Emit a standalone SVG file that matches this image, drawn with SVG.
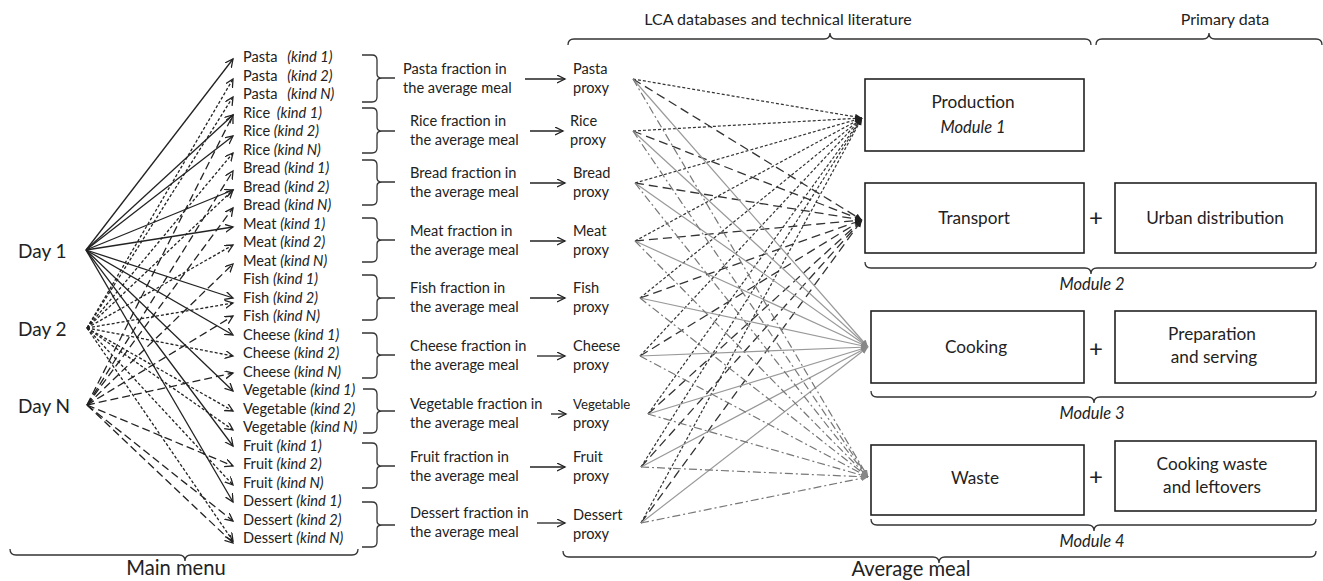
<svg xmlns="http://www.w3.org/2000/svg" width="1323" height="581" viewBox="0 0 1323 581">
<style>
text{font-family:Lato,"Open Sans","Liberation Sans",sans-serif;fill:#222}
.it{font-size:14.6px}
.k{font-style:italic}
.fr{font-size:14.6px}
.day{font-size:19px}
.hd{font-size:16px}
.bx{font-size:17.2px}
.md{font-size:16.5px;font-style:italic}
.big{font-size:20.2px}
.pl{font-size:24px}
.box{fill:#fff;stroke:#222;stroke-width:1.6}
.br{fill:none;stroke:#333;stroke-width:1.3}
.s{fill:none;stroke:#222;stroke-width:1.3}
.d2{fill:none;stroke:#222;stroke-width:1.3;stroke-dasharray:3 2}
.dn{fill:none;stroke:#222;stroke-width:1.3;stroke-dasharray:8 4}
.pr{fill:none;stroke:#333;stroke-width:1.2;stroke-dasharray:3 2}
.tr{fill:none;stroke:#333;stroke-width:1.3;stroke-dasharray:9 5}
.ck{fill:none;stroke:#999;stroke-width:1.2}
.ws{fill:none;stroke:#777;stroke-width:1.2;stroke-dasharray:8 3 2 3}
</style>
<defs>
<marker id="v" markerUnits="userSpaceOnUse" markerWidth="12" markerHeight="12" refX="8" refY="4" orient="auto">
<path d="M0,0 L8,4 L0,8" fill="none" stroke="#222" stroke-width="1.3"/>
</marker>
<marker id="t" markerUnits="userSpaceOnUse" markerWidth="10" markerHeight="10" refX="7" refY="3" orient="auto">
<path d="M0,0 L7,3 L0,6 z" fill="#222"/>
</marker>
<marker id="tg" markerUnits="userSpaceOnUse" markerWidth="10" markerHeight="10" refX="7" refY="3" orient="auto">
<path d="M0,0 L7,3 L0,6 z" fill="#888"/>
</marker>
</defs>

<!-- headings and braces -->
<g id="headings">
<text class="hd" x="778" y="25" text-anchor="middle">LCA databases and technical literature</text>
<text class="hd" x="1225" y="25" text-anchor="middle">Primary data</text>
<path class="br" d="M568,45 Q568,39 574,39 L824,39 Q830,39 830,33 Q830,39 836,39 L1085,39 Q1091,39 1091,45"/>
<path class="br" d="M1096,45 Q1096,39 1102,39 L1203,39 Q1209,39 1209,33 Q1209,39 1215,39 L1316,39 Q1322,39 1322,45"/>
<path class="br" d="M10,549 Q10,555 16,555 L179,555 Q185,555 185,561 Q185,555 191,555 L352,555 Q358,555 358,549"/>
<text class="big" x="176" y="575" text-anchor="middle">Main menu</text>
<path class="br" d="M563,551 Q563,557 569,557 L933,557 Q939,557 939,563 Q939,557 945,557 L1310,557 Q1316,557 1316,551"/>
<text class="big" x="911" y="576" text-anchor="middle">Average meal</text>
</g>

<!-- days -->
<g id="day1"><text class="day" x="18" y="258">Day 1</text></g>
<g id="day2"><text class="day" x="18" y="336">Day 2</text></g>
<g id="dayN"><text class="day" x="18" y="413">Day N</text></g>

<!-- menu items -->
<g id="items" class="it">
<text x="243" y="62">Pasta <tspan class="k" dx="6">(kind 1)</tspan></text>
<text x="243" y="80.5">Pasta <tspan class="k" dx="6">(kind 2)</tspan></text>
<text x="243" y="99">Pasta <tspan class="k" dx="6">(kind N)</tspan></text>
<text x="243" y="117.5">Rice <tspan class="k" dx="3">(kind 1)</tspan></text>
<text x="243" y="136">Rice <tspan class="k">(kind 2)</tspan></text>
<text x="243" y="154.5">Rice <tspan class="k">(kind N)</tspan></text>
<text x="243" y="173">Bread <tspan class="k">(kind 1)</tspan></text>
<text x="243" y="191.5">Bread <tspan class="k">(kind 2)</tspan></text>
<text x="243" y="210">Bread <tspan class="k">(kind N)</tspan></text>
<text x="243" y="228.5">Meat <tspan class="k">(kind 1)</tspan></text>
<text x="243" y="247">Meat <tspan class="k">(kind 2)</tspan></text>
<text x="243" y="265.5">Meat <tspan class="k">(kind N)</tspan></text>
<text x="243" y="284">Fish <tspan class="k">(kind 1)</tspan></text>
<text x="243" y="302.5">Fish <tspan class="k">(kind 2)</tspan></text>
<text x="243" y="321">Fish <tspan class="k">(kind N)</tspan></text>
<text x="243" y="339.5">Cheese <tspan class="k">(kind 1)</tspan></text>
<text x="243" y="358">Cheese <tspan class="k">(kind 2)</tspan></text>
<text x="243" y="376.5">Cheese <tspan class="k">(kind N)</tspan></text>
<text x="243" y="395">Vegetable <tspan class="k">(kind 1)</tspan></text>
<text x="243" y="413.5">Vegetable <tspan class="k">(kind 2)</tspan></text>
<text x="243" y="432">Vegetable <tspan class="k">(kind N)</tspan></text>
<text x="243" y="450.5">Fruit <tspan class="k">(kind 1)</tspan></text>
<text x="243" y="469">Fruit <tspan class="k">(kind 2)</tspan></text>
<text x="243" y="487.5">Fruit <tspan class="k">(kind N)</tspan></text>
<text x="243" y="506">Dessert <tspan class="k">(kind 1)</tspan></text>
<text x="243" y="524.5">Dessert <tspan class="k">(kind 2)</tspan></text>
<text x="243" y="543">Dessert <tspan class="k">(kind N)</tspan></text>
</g>

<!-- group braces -->
<g id="groupBraces" class="br">
<path d="M362,55 L372,55 Q377,55 377,60 L377,74 Q377,78 382,78 L395,78 M382,78 Q377,78 377,82 L377,97 Q377,102 372,102 L362,102"/>
<path d="M362,108 L372,108 Q377,108 377,113 L377,127 Q377,131 382,131 L395,131 M382,131 Q377,131 377,135 L377,148 Q377,153 372,153 L362,153"/>
<path d="M362,160 L372,160 Q377,160 377,165 L377,178 Q377,182 382,182 L395,182 M382,182 Q377,182 377,186 L377,200 Q377,205 372,205 L362,205"/>
<path d="M362,218 L372,218 Q377,218 377,223 L377,236 Q377,240 382,240 L395,240 M382,240 Q377,240 377,244 L377,257 Q377,262 372,262 L362,262"/>
<path d="M362,275 L372,275 Q377,275 377,280 L377,294 Q377,298 382,298 L395,298 M382,298 Q377,298 377,302 L377,315 Q377,320 372,320 L362,320"/>
<path d="M362,333 L372,333 Q377,333 377,338 L377,351 Q377,355 382,355 L395,355 M382,355 Q377,355 377,359 L377,373 Q377,378 372,378 L362,378"/>
<path d="M363,389 L372,389 Q377,389 377,394 L377,407 Q377,411 382,411 L395,411 M382,411 Q377,411 377,415 L377,428 Q377,433 372,433 L363,433"/>
<path d="M362,443 L372,443 Q377,443 377,448 L377,462 Q377,466 382,466 L395,466 M382,466 Q377,466 377,470 L377,483 Q377,488 372,488 L362,488"/>
<path d="M362,502 L372,502 Q377,502 377,507 L377,521 Q377,525 382,525 L395,525 M382,525 Q377,525 377,529 L377,542 Q377,547 372,547 L362,547"/>
</g>

<!-- fraction labels -->
<g id="fractions" class="fr">
<text x="403" y="74">Pasta fraction in</text><text x="403" y="93">the average meal</text>
<text x="410" y="126">Rice fraction in</text><text x="410" y="145">the average meal</text>
<text x="410" y="178">Bread fraction in</text><text x="410" y="197">the average meal</text>
<text x="410" y="236">Meat fraction in</text><text x="410" y="255">the average meal</text>
<text x="410" y="293">Fish fraction in</text><text x="410" y="312">the average meal</text>
<text x="410" y="351">Cheese fraction in</text><text x="410" y="370">the average meal</text>
<text x="410" y="409">Vegetable fraction in</text><text x="410" y="428">the average meal</text>
<text x="410" y="462">Fruit fraction in</text><text x="410" y="481">the average meal</text>
<text x="410" y="518">Dessert fraction in</text><text x="410" y="537">the average meal</text>
</g>

<!-- proxies -->
<g id="proxies" class="fr">
<text x="573" y="74">Pasta</text><text x="573" y="93">proxy</text>
<text x="570" y="126">Rice</text><text x="570" y="145">proxy</text>
<text x="573" y="178">Bread</text><text x="573" y="197">proxy</text>
<text x="573" y="236">Meat</text><text x="573" y="255">proxy</text>
<text x="573" y="293">Fish</text><text x="573" y="312">proxy</text>
<text x="573" y="351">Cheese</text><text x="573" y="370">proxy</text>
<text x="573" y="409" style="font-size:13.2px">Vegetable</text><text x="573" y="428">proxy</text>
<text x="573" y="462">Fruit</text><text x="573" y="481">proxy</text>
<text x="573" y="520">Dessert</text><text x="573" y="539">proxy</text>
</g>

<!-- modules -->
<g id="production"><rect class="box" x="865" y="79" width="219" height="72"/><text class="bx" x="973" y="108" text-anchor="middle">Production</text><text class="md" x="973" y="133" text-anchor="middle">Module 1</text></g>
<g id="transport"><rect class="box" x="865" y="183" width="219" height="70"/><text class="bx" x="974" y="224" text-anchor="middle">Transport</text></g>
<g id="urban"><rect class="box" x="1115" y="183" width="201" height="70"/><text class="bx" x="1215" y="224" text-anchor="middle">Urban distribution</text></g>
<g id="cooking"><rect class="box" x="871" y="311" width="213" height="72"/><text class="bx" x="976" y="353" text-anchor="middle">Cooking</text></g>
<g id="preparation"><rect class="box" x="1115" y="311" width="201" height="72"/><text class="bx" x="1212" y="340" text-anchor="middle">Preparation</text><text class="bx" x="1214" y="363" text-anchor="middle">and serving</text></g>
<g id="waste"><rect class="box" x="871" y="445" width="213" height="70"/><text class="bx" x="975" y="484" text-anchor="middle">Waste</text></g>
<g id="cookingwaste"><rect class="box" x="1115" y="441" width="201" height="70"/><text class="bx" x="1212" y="470" text-anchor="middle">Cooking waste</text><text class="bx" x="1212" y="493" text-anchor="middle">and leftovers</text></g>
<g id="plus" class="pl"><text x="1096" y="226" text-anchor="middle">+</text><text x="1096" y="357" text-anchor="middle">+</text><text x="1096" y="485" text-anchor="middle">+</text></g>
<g id="moduleBraces">
<path class="br" d="M865,262 Q865,268 871,268 L1085,268 Q1091,268 1091,274 Q1091,268 1097,268 L1310,268 Q1316,268 1316,262"/>
<text class="md" x="1092" y="290" text-anchor="middle">Module 2</text>
<path class="br" d="M871,391 Q871,397 877,397 L1088,397 Q1094,397 1094,403 Q1094,397 1100,397 L1310,397 Q1316,397 1316,391"/>
<text class="md" x="1092" y="419" text-anchor="middle">Module 3</text>
<path class="br" d="M871,519 Q871,525 877,525 L1088,525 Q1094,525 1094,531 Q1094,525 1100,525 L1310,525 Q1316,525 1316,519"/>
<text class="md" x="1092" y="547" text-anchor="middle">Module 4</text>
</g>

<g id="connectors">
<!-- Day 1 solid -->
<path class="s" marker-end="url(#v)" d="M86,250 L233,59"/>
<path class="s" marker-end="url(#v)" d="M86,250 L233,115"/>
<path class="s" marker-end="url(#v)" d="M86,250 L233,136"/>
<path class="s" marker-end="url(#v)" d="M86,250 L233,190"/>
<path class="s" marker-end="url(#v)" d="M86,250 L233,227"/>
<path class="s" marker-end="url(#v)" d="M86,250 L233,298"/>
<path class="s" marker-end="url(#v)" d="M86,250 L233,335"/>
<path class="s" marker-end="url(#v)" d="M86,250 L233,391"/>
<path class="s" marker-end="url(#v)" d="M86,250 L233,446"/>
<path class="s" marker-end="url(#v)" d="M86,250 L233,502"/>
<!-- Day 2 dotted -->
<path class="d2" marker-end="url(#v)" d="M87,328 L233,79"/>
<path class="d2" marker-end="url(#v)" d="M87,328 L233,97"/>
<path class="d2" marker-end="url(#v)" d="M87,328 L233,153"/>
<path class="d2" marker-end="url(#v)" d="M87,328 L233,190"/>
<path class="d2" marker-end="url(#v)" d="M87,328 L233,245"/>
<path class="d2" marker-end="url(#v)" d="M87,328 L233,303"/>
<path class="d2" marker-end="url(#v)" d="M87,328 L233,356"/>
<path class="d2" marker-end="url(#v)" d="M87,328 L233,411"/>
<path class="d2" marker-end="url(#v)" d="M87,328 L233,430"/>
<path class="d2" marker-end="url(#v)" d="M87,328 L233,485"/>
<path class="d2" marker-end="url(#v)" d="M87,328 L233,541"/>
<!-- Day N dashed -->
<path class="dn" marker-end="url(#v)" d="M87,405 L233,115"/>
<path class="dn" marker-end="url(#v)" d="M87,405 L233,171"/>
<path class="dn" marker-end="url(#v)" d="M87,405 L233,208"/>
<path class="dn" marker-end="url(#v)" d="M87,405 L233,264"/>
<path class="dn" marker-end="url(#v)" d="M87,405 L233,316"/>
<path class="dn" marker-end="url(#v)" d="M87,405 L233,373"/>
<path class="dn" marker-end="url(#v)" d="M87,405 L233,466"/>
<path class="dn" marker-end="url(#v)" d="M87,405 L233,521"/>
<path class="dn" marker-end="url(#v)" d="M87,405 L233,543"/>
<!-- fraction to proxy -->
<path class="s" marker-end="url(#v)" d="M525,79 L565,79"/>
<path class="s" marker-end="url(#v)" d="M530,131 L563,131"/>
<path class="s" marker-end="url(#v)" d="M530,183 L565,183"/>
<path class="s" marker-end="url(#v)" d="M530,241 L565,241"/>
<path class="s" marker-end="url(#v)" d="M530,298 L565,298"/>
<path class="s" marker-end="url(#v)" d="M537,356 L565,356"/>
<path class="s" marker-end="url(#v)" d="M551,414 L566,414"/>
<path class="s" marker-end="url(#v)" d="M530,467 L565,467"/>
<path class="s" marker-end="url(#v)" d="M537,523 L565,523"/>
<!-- proxies to production -->
<path class="pr" marker-end="url(#t)" d="M633,79 L862,118"/>
<path class="pr" marker-end="url(#t)" d="M633,131 L862,118"/>
<path class="pr" marker-end="url(#t)" d="M635,183 L862,118"/>
<path class="pr" marker-end="url(#t)" d="M635,241 L862,118"/>
<path class="pr" marker-end="url(#t)" d="M640,298 L862,118"/>
<path class="pr" marker-end="url(#t)" d="M640,356 L862,118"/>
<path class="pr" marker-end="url(#t)" d="M648,414 L862,118"/>
<path class="pr" marker-end="url(#t)" d="M641,467 L862,118"/>
<path class="pr" marker-end="url(#t)" d="M641,523 L862,118"/>
<!-- proxies to transport -->
<path class="tr" marker-end="url(#t)" d="M633,79 L862,220"/>
<path class="tr" marker-end="url(#t)" d="M633,131 L862,220"/>
<path class="tr" marker-end="url(#t)" d="M635,183 L862,220"/>
<path class="tr" marker-end="url(#t)" d="M635,241 L862,220"/>
<path class="tr" marker-end="url(#t)" d="M640,298 L862,220"/>
<path class="tr" marker-end="url(#t)" d="M640,356 L862,220"/>
<path class="tr" marker-end="url(#t)" d="M648,414 L862,220"/>
<path class="tr" marker-end="url(#t)" d="M641,467 L862,220"/>
<path class="tr" marker-end="url(#t)" d="M641,523 L862,220"/>
<!-- proxies to cooking -->
<path class="ck" marker-end="url(#tg)" d="M633,79 L868,347"/>
<path class="ck" marker-end="url(#tg)" d="M633,131 L868,347"/>
<path class="ck" marker-end="url(#tg)" d="M635,183 L868,347"/>
<path class="ck" marker-end="url(#tg)" d="M635,241 L868,347"/>
<path class="ck" marker-end="url(#tg)" d="M640,298 L868,347"/>
<path class="ck" marker-end="url(#tg)" d="M640,356 L868,347"/>
<path class="ck" marker-end="url(#tg)" d="M648,414 L868,347"/>
<path class="ck" marker-end="url(#tg)" d="M641,467 L868,347"/>
<path class="ck" marker-end="url(#tg)" d="M641,523 L868,347"/>
<!-- proxies to waste -->
<path class="ws" marker-end="url(#tg)" d="M633,79 L868,477"/>
<path class="ws" marker-end="url(#tg)" d="M633,131 L868,477"/>
<path class="ws" marker-end="url(#tg)" d="M635,183 L868,477"/>
<path class="ws" marker-end="url(#tg)" d="M635,241 L868,477"/>
<path class="ws" marker-end="url(#tg)" d="M640,298 L868,477"/>
<path class="ws" marker-end="url(#tg)" d="M640,356 L868,477"/>
<path class="ws" marker-end="url(#tg)" d="M648,414 L868,477"/>
<path class="ws" marker-end="url(#tg)" d="M641,467 L868,477"/>
<path class="ws" marker-end="url(#tg)" d="M641,523 L868,477"/>
</g>
</svg>
